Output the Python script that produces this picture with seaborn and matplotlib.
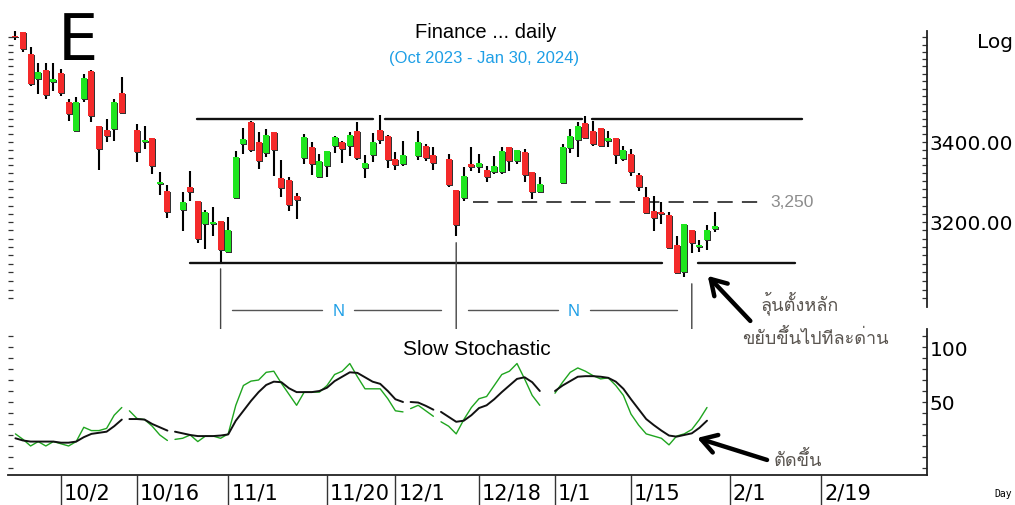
import numpy as np
import pandas as pd
import matplotlib
matplotlib.use("Agg")
import matplotlib.pyplot as plt
import matplotlib.transforms as mtransforms
from matplotlib import font_manager
from matplotlib.ft2font import FT2Font
from matplotlib.ticker import FixedLocator, FuncFormatter, NullFormatter
import seaborn as sns

# ---- data ----
holidays = ["2023-10-13", "2023-10-23", "2023-12-05", "2023-12-11", "2023-12-29", "2024-01-01"]
trade_dates = pd.bdate_range("2023-09-22", "2024-01-30").drop(pd.to_datetime(holidays))

open_ = [3685, 3695, 3634, 3566, 3591, 3558, 3581, 3505, 3428, 3513, 3588, 3441, 3431, 3434, 3529,
         3431, 3400, 3410, 3294, 3276,
         3229, 3286, 3251, 3195, 3195, 3202, 3128, 3259, 3395, 3452, 3400, 3371, 3426, 3308, 3303, 3264,
         3358, 3387, 3311, 3339, 3390, 3400, 3390, 3428, 3334, 3366, 3431, 3415, 3356, 3343,
         3364, 3390, 3366,
         3356, 3279, 3259, 3343, 3336, 3328, 3324, 3324, 3387, 3351, 3374, 3324, 3274,
         3296, 3385, 3405, 3449, 3428, 3436, 3403, 3410, 3356, 3369, 3316, 3261, 3227, 3224, 3217, 3145,
         3080, 3181, 3140, 3157, 3183]
high = [3698, 3695, 3654, 3610, 3610, 3610, 3592, 3513, 3518, 3580, 3590, 3441, 3460, 3513, 3571,
        3446, 3441, 3410, 3324, 3291,
        3274, 3326, 3251, 3229, 3237, 3202, 3212, 3377, 3436, 3455, 3426, 3434, 3426, 3353, 3311, 3271,
        3420, 3400, 3369, 3377, 3415, 3403, 3426, 3452, 3366, 3423, 3470, 3418, 3374, 3403,
        3428, 3395, 3387,
        3369, 3279, 3336, 3387, 3369, 3339, 3364, 3387, 3387, 3379, 3382, 3324, 3311,
        3395, 3434, 3452, 3467, 3455, 3436, 3428, 3410, 3390, 3382, 3321, 3286, 3264, 3249, 3224, 3166,
        3195, 3181, 3157, 3193, 3224]
low = [3672, 3640, 3547, 3526, 3513, 3534, 3521, 3455, 3426, 3505, 3452, 3329, 3400, 3403, 3473,
       3348, 3382, 3318, 3266, 3210,
       3178, 3251, 3149, 3135, 3166, 3104, 3128, 3259, 3369, 3374, 3331, 3361, 3313, 3261, 3227, 3207,
       3343, 3316, 3311, 3311, 3371, 3346, 3364, 3353, 3308, 3348, 3395, 3333, 3328, 3339,
       3353, 3351, 3328,
       3286, 3166, 3251, 3326, 3321, 3298, 3318, 3318, 3326, 3343, 3298, 3256, 3274,
       3296, 3371, 3361, 3408, 3390, 3387, 3387, 3343, 3351, 3313, 3276, 3222, 3178, 3195, 3138, 3078,
       3069, 3126, 3128, 3133, 3176]
close = [3680, 3648, 3553, 3586, 3523, 3566, 3529, 3473, 3505, 3569, 3468, 3382, 3415, 3505, 3476,
         3374, 3405, 3339, 3299, 3224,
         3249, 3274, 3159, 3224, 3200, 3133, 3181, 3362, 3408, 3379, 3351, 3418, 3379, 3284, 3241, 3254,
         3413, 3343, 3351, 3377, 3413, 3382, 3418, 3358, 3346, 3400, 3405, 3353, 3341, 3366,
         3400, 3358, 3346,
         3291, 3193, 3313, 3336, 3346, 3311, 3339, 3377, 3351, 3379, 3316, 3274, 3294,
         3387, 3415, 3441, 3410, 3395, 3390, 3410, 3366, 3379, 3324, 3286, 3222, 3210, 3220, 3138, 3078,
         3195, 3149, 3145, 3181, 3190]

# slow stochastic on the weekday grid 22 Sep .. 29 Jan (no value drawn on 29 Dec)
stoch_dates = pd.bdate_range("2023-09-22", "2024-01-29")
stoch_k = [21, 16, 10, 14, 10, 14,
           12, 10, 14, 27, 24, 24, 26, 38, 45,
           42, 35, 34, 28, 20, 15,
           16, 17, 20, 14, 19, 19, 17, 21,
           47, 65, 69, 70, 77, 78, 67, 57, 47,
           59, 59, 59, 65, 75, 78, 85, 73, 62, 62, 62, 53, 42, 41,
           44, 47, 42, 37,
           32, 28, 21, 34, 45, 53, 55, 65, 75, 78, 85, 71, 56, 47,
           np.nan,
           58, 68, 77, 81, 78, 74, 71, 72, 65, 56, 39, 29, 21, 19, 17, 11, 19, 21, 25, 34, 45]
stoch_d = [17, 15, 14, 14, 14, 14,
           13, 13, 14, 18, 21, 22, 23, 28, 34,
           34.5, 34.5, 34, 30, 27, 24,
           23, 21.5, 20, 19, 19, 19, 19.5, 20.5,
           33, 42, 51, 59, 65.5, 68.5, 68, 62.5, 59,
           59, 59, 60, 63, 69, 73, 77, 76.5, 72.5, 68.5, 66.5, 60, 52.5, 50,
           50, 49.5, 46.5, 43,
           41, 36.5, 32, 33, 38, 44.5, 47, 52.5, 59, 65, 71, 72.5, 68, 60,
           np.nan,
           60, 65, 69, 73, 73.5, 73.5, 73, 72, 68.5, 62, 52.5, 43.5, 34.5, 29, 24, 19.5, 18.5, 20, 21.5, 26.5, 33]

resistance = 3460
support = 3102
level_3250 = 3250
cycle_low_dates = ["2023-10-31", "2023-12-13", "2024-01-25"]
cycle_low_prices = [3104, 3166, 3069]

tick_dates = pd.to_datetime(["2023-10-02", "2023-10-16", "2023-11-01", "2023-11-20", "2023-12-01",
                             "2023-12-18", "2024-01-01", "2024-01-15", "2024-02-01", "2024-02-19"])

RED = "#f42a2a"
GREEN = "#1fe61f"
BLUE = "#1e9fe6"
THAI_COLOR = "#5a5550"


def slot(d):
    # weekday index counted from 2 Oct 2023 (holidays keep their empty slot)
    d = pd.to_datetime(d)
    return np.busday_count(np.datetime64("2023-10-02"), np.array(d, dtype="datetime64[D]"))


def thai_font():
    for f in font_manager.fontManager.ttflist:
        try:
            if ord("ก") in FT2Font(f.fname).get_charmap():
                return f.name
        except Exception:
            pass
    return "DejaVu Sans"


sns.set_style("white")
plt.rcParams["font.family"] = ["DejaVu Sans"]
plt.rcParams["text.color"] = "black"
plt.rcParams["ytick.labelcolor"] = "black"
thai = thai_font()

W, H = 1015, 506
fig = plt.figure(figsize=(W / 100, H / 100), dpi=100)
ax1 = fig.add_axes([8 / W, 1 - 308 / H, 919 / W, 276 / H])
ax2 = fig.add_axes([8 / W, 1 - 476 / H, 919 / W, 146 / H], sharex=ax1)

# ---- candles ----
x = slot(trade_dates)
o, h, l, c = map(np.asarray, (open_, high, low, close))
up = c >= o
bot = np.minimum(o, c)
top = np.maximum(o, c)
ax1.set_yscale("log")
ax1.vlines(x, l, h, color="black", lw=1.5, zorder=2)
shadow = mtransforms.offset_copy(ax1.transData, fig=fig, x=1.0, y=-1.0, units="dots")
ax1.bar(x, top - bot, bottom=bot, width=0.78, color="#333333", edgecolor="none", linewidth=0,
        transform=shadow, zorder=3)
ax1.bar(x, top - bot, bottom=bot, width=0.78, color=np.where(up, GREEN, RED), edgecolor="none",
        linewidth=0, zorder=4)

ax1.set_xlim((8 - 61) / 7.6, (927 - 61) / 7.6)
ax1.set_ylim(3000.5, 3698)

# support / resistance lines (broken where candles cross them)
for a, b in [(17.9, 41.05), (42.6, 68.6), (69.9, 97.5)]:
    ax1.plot([a, b], [resistance, resistance], color="#111111", lw=1.7, zorder=1)
for a, b in [(17.0, 79.1), (83.8, 96.6)]:
    ax1.plot([a, b], [support, support], color="#111111", lw=1.7, zorder=1)
ax1.plot([54.2, 92.2], [level_3250, level_3250], color="#111111", lw=1.1,
         linestyle=(0, (10, 6)), zorder=1)
ax1.text(93.3, level_3250, "3,250", color="#8c8c8c", fontsize=12.5, va="center", ha="left",
         family="Liberation Sans")

# cycle lows and N spans
cx = slot(cycle_low_dates)
for xi, p in zip(cx, cycle_low_prices):
    ax1.annotate("", xy=(xi, p * 0.995), xycoords="data", xytext=(xi, -0.087),
                 textcoords=("data", "axes fraction"), annotation_clip=False,
                 arrowprops=dict(arrowstyle="-", color="#444444", lw=1.0, shrinkA=0, shrinkB=0))
blend1 = mtransforms.blended_transform_factory(ax1.transData, ax1.transAxes)
for a, b in zip(cx[:-1], cx[1:]):
    mid = (a + b) / 2
    for s, e in [(a + 1.5, mid - 2.1), (mid + 2.1, b - 2.0)]:
        ax1.plot([s, e], [-0.011, -0.011], transform=blend1, color="#555555", lw=1.0, clip_on=False)
    ax1.text(mid, -0.011, "N", transform=blend1, color=BLUE, fontsize=12, ha="center", va="center",
             family="Liberation Sans")

ax1.annotate("", xy=(85.1, 3072), xytext=(90.7, 2969), annotation_clip=False,
             arrowprops=dict(arrowstyle="->,head_length=0.9,head_width=0.55", color="black", lw=3.2,
                             shrinkA=0, shrinkB=0, mutation_scale=12))

# ---- stochastic ----
sx = slot(stoch_dates)
run = np.searchsorted(np.sort(slot(holidays)), sx, side="right")
stoch = pd.DataFrame({"slot": sx, "K": stoch_k, "D": stoch_d, "run": run}).dropna()
sns.lineplot(data=stoch, x="slot", y="K", units="run", estimator=None, color="#1fa51f", lw=1.0,
             ax=ax2, legend=False, zorder=2)
sns.lineplot(data=stoch, x="slot", y="D", units="run", estimator=None, color="#111111", lw=1.4,
             ax=ax2, legend=False, zorder=3)
ax2.set_ylim(-16.4, 116.4)
ax2.set_xlabel("")
ax2.set_ylabel("")
ax2.annotate("", xy=(83.7, 17.3), xytext=(92.9, -2.7), annotation_clip=False,
             arrowprops=dict(arrowstyle="->,head_length=0.9,head_width=0.55", color="black", lw=3.2,
                             shrinkA=0, shrinkB=0, mutation_scale=12))

# ---- axes styling ----
for ax in (ax1, ax2):
    for s in ("top", "left", "bottom"):
        ax.spines[s].set_visible(False)
    ax.spines["right"].set_color("#222222")
    ax.spines["right"].set_linewidth(1.3)
    ax.tick_params(axis="y", which="both", left=True, right=True, labelleft=False, labelright=True,
                   direction="in", length=3.5, width=0.9, color="#333333", pad=2, labelsize=14.5,
                   labelcolor="black")
    ax.set_facecolor("white")

ax1.yaxis.set_major_locator(FixedLocator([3200, 3400]))
ax1.yaxis.set_minor_locator(FixedLocator(np.arange(3000, 3700, 20)))
ax1.yaxis.set_major_formatter(FuncFormatter(lambda v, p: f"{v:.2f}"))
ax1.yaxis.set_minor_formatter(NullFormatter())
ax1.tick_params(axis="x", which="both", bottom=False, labelbottom=False)

ax2.yaxis.set_major_locator(FixedLocator([50, 100]))
ax2.yaxis.set_minor_locator(FixedLocator(np.arange(-10, 111, 10)))
ax2.spines["bottom"].set_visible(True)
ax2.spines["bottom"].set_color("#222222")
ax2.spines["bottom"].set_linewidth(1.3)
tx = slot(tick_dates)
ax2.set_xticks(tx)
ax2.tick_params(axis="x", which="major", bottom=True, labelbottom=False, direction="out",
                length=22, width=1.0, color="#333333")
ax2.tick_params(axis="x", which="minor", bottom=False)
blend2 = mtransforms.offset_copy(
    mtransforms.blended_transform_factory(ax2.transData, ax2.transAxes), fig=fig, x=3, y=0, units="dots")
for xi, d in zip(tx, tick_dates):
    ax2.text(xi, -0.123, f"{d.month}/{d.day}", transform=blend2, ha="left", va="center", fontsize=15)

# ---- texts ----
def fx(px):
    return px / W


def fy(py):
    return 1 - py / H


fig.text(fx(58), fy(60), "E", fontsize=46, va="baseline", ha="left")
fig.text(fx(486), fy(38), "Finance ... daily", fontsize=14.5, ha="center", va="baseline",
         family="Liberation Sans")
fig.text(fx(484), fy(63), "(Oct 2023 - Jan 30, 2024)", fontsize=12, ha="center", va="baseline",
         color=BLUE, family="Liberation Sans")
fig.text(fx(1013), fy(48), "Log", fontsize=14.5, ha="right", va="baseline")
fig.text(fx(477), fy(355), "Slow Stochastic", fontsize=15, ha="center", va="baseline",
         family="Liberation Sans")
fig.text(fx(800), fy(303), "ลุ้นตั้งหลัก", fontsize=13, ha="center", va="center",
         color=THAI_COLOR, family=[thai, "DejaVu Sans"])
fig.text(fx(815), fy(338), "ขยับขึ้นไปทีละด่าน", fontsize=13, ha="center", va="center",
         color=THAI_COLOR, family=[thai, "DejaVu Sans"])
fig.text(fx(798), fy(460), "ตัดขึ้น", fontsize=13, ha="center", va="center",
         color=THAI_COLOR, family=[thai, "DejaVu Sans"])
fig.text(fx(1003), fy(494), "Day", fontsize=7, ha="center", va="center", family="DejaVu Sans Mono")

fig.savefig("out.png", dpi=100, facecolor="white")
